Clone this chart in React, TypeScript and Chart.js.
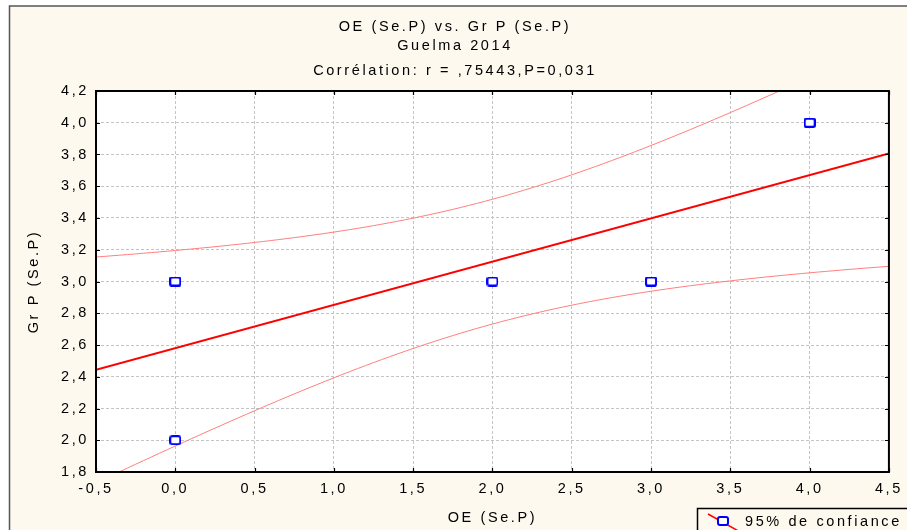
import React, { useEffect, useRef } from "react";
import { Chart, registerables } from "chart.js";

Chart.register(...registerables);

// Observations (n = 8; several pairs coincide on the plot)
const oeValues = [0, 0, 0, 2, 3, 3, 4, 4];
const grPValues = [2, 3, 3, 3, 3, 3, 4, 4];

// Axis ranges and tick spacing
const xMin = -0.5;
const xMax = 4.5;
const xStep = 0.5;
const yMin = 1.8;
const yMax = 4.2;
const yStep = 0.2;

const titleLines = [
  "OE (Se.P) vs. Gr P (Se.P)",
  "Guelma 2014",
  "Corrélation: r = ,75443,P=0,031",
];
const xAxisTitle = "OE (Se.P)";
const yAxisTitle = "Gr P (Se.P)";
const legendLabel = "95% de confiance";

// Student t quantile (0.975) for n - 2 = 6 degrees of freedom
const tQuantile = 2.446912;

const FONT = "'Liberation Sans', Arial, sans-serif";
const CREAM = "#fdf9ef";

function fitRegression(xs: number[], ys: number[]) {
  const n = xs.length;
  const mx = xs.reduce((a, b) => a + b, 0) / n;
  const my = ys.reduce((a, b) => a + b, 0) / n;
  let sxx = 0;
  let sxy = 0;
  let syy = 0;
  for (let i = 0; i < n; i++) {
    sxx += (xs[i] - mx) ** 2;
    sxy += (xs[i] - mx) * (ys[i] - my);
    syy += (ys[i] - my) ** 2;
  }
  const slope = sxy / sxx;
  const intercept = my - slope * mx;
  const s = Math.sqrt((syy - slope * sxy) / (n - 2));
  const predict = (x: number) => intercept + slope * x;
  const halfWidth = (x: number) =>
    tQuantile * s * Math.sqrt(1 / n + (x - mx) ** 2 / sxx);
  return { predict, halfWidth };
}

function makeMarker(): HTMLCanvasElement {
  const c = document.createElement("canvas");
  c.width = 12;
  c.height = 10;
  const g = c.getContext("2d")!;
  g.fillStyle = "#ffffff";
  g.strokeStyle = "#0000ff";
  g.lineWidth = 2;
  g.beginPath();
  g.roundRect(1, 1, 10, 8, 2);
  g.fill();
  g.stroke();
  return c;
}

const fmt = (v: number) => v.toFixed(1).replace(".", ",");

export default function App() {
  const ref = useRef<HTMLCanvasElement | null>(null);

  useEffect(() => {
    document.body.style.margin = "0";
    const canvas = ref.current!;
    const marker = makeMarker();
    const fit = fitRegression(oeValues, grPValues);

    const points = oeValues.map((x, i) => ({ x, y: grPValues[i] }));
    const fitLine = [xMin, xMax].map((x) => ({ x, y: fit.predict(x) }));
    const gridXs: number[] = [];
    for (let i = 0; i <= 100; i++) gridXs.push(xMin + (i * (xMax - xMin)) / 100);
    const upper = gridXs.map((x) => ({ x, y: fit.predict(x) + fit.halfWidth(x) }));
    const lower = gridXs.map((x) => ({ x, y: fit.predict(x) - fit.halfWidth(x) }));

    const framePlugin = {
      id: "statFrame",
      beforeDraw(chart: any) {
        const { ctx, width, height, chartArea: a } = chart;
        ctx.save();
        ctx.fillStyle = "#ffffff";
        ctx.fillRect(0, 0, width, height);
        ctx.fillStyle = CREAM;
        ctx.fillRect(10, 6, width, height);
        ctx.strokeStyle = "#555555";
        ctx.lineWidth = 1.5;
        ctx.beginPath();
        ctx.moveTo(9.5, height);
        ctx.lineTo(9.5, 6);
        ctx.lineTo(width, 6);
        ctx.stroke();
        ctx.fillStyle = "#ffffff";
        ctx.fillRect(a.left, a.top, a.right - a.left, a.bottom - a.top);
        ctx.restore();
        ctx.letterSpacing = "2.6px";
      },
      afterDraw(chart: any) {
        const { ctx, chartArea: a, scales } = chart;
        ctx.save();
        ctx.letterSpacing = "2.6px";
        // plot frame
        ctx.strokeStyle = "#000000";
        ctx.lineWidth = 2;
        ctx.strokeRect(a.left, a.top, a.right - a.left, a.bottom - a.top);
        // inward tick marks on all four sides
        ctx.lineWidth = 1.2;
        ctx.beginPath();
        for (const t of scales.x.ticks) {
          const px = Math.round(scales.x.getPixelForValue(t.value)) + 0.5;
          ctx.moveTo(px, a.top);
          ctx.lineTo(px, a.top + 4);
          ctx.moveTo(px, a.bottom);
          ctx.lineTo(px, a.bottom - 4);
        }
        for (const t of scales.y.ticks) {
          const py = Math.round(scales.y.getPixelForValue(t.value)) + 0.5;
          ctx.moveTo(a.left, py);
          ctx.lineTo(a.left + 4, py);
          ctx.moveTo(a.right, py);
          ctx.lineTo(a.right - 4, py);
        }
        ctx.stroke();

        // title block
        ctx.fillStyle = "#000000";
        ctx.font = `14.5px ${FONT}`;
        ctx.textAlign = "center";
        ctx.textBaseline = "middle";
        const titleYs = [27, 46, 71];
        titleLines.forEach((line, i) => ctx.fillText(line, 455, titleYs[i]));

        // legend box
        const lx = 697.5;
        const ly = 508.5;
        ctx.fillStyle = CREAM;
        ctx.fillRect(lx, ly, 300, 60);
        ctx.strokeStyle = "#000000";
        ctx.lineWidth = 1.5;
        ctx.strokeRect(lx, ly, 300, 60);
        ctx.strokeStyle = "#ff0000";
        ctx.lineWidth = 1.5;
        ctx.beginPath();
        ctx.moveTo(708, 514);
        ctx.lineTo(742, 533);
        ctx.stroke();
        ctx.drawImage(marker, 723 - 6, 521 - 5);
        ctx.fillStyle = "#000000";
        ctx.textAlign = "left";
        ctx.fillText(legendLabel, 745, 522);
        ctx.restore();
      },
    };

    const tickFont = { family: FONT, size: 14.5 };

    const chart = new Chart(canvas, {
      type: "scatter",
      data: {
        datasets: [
          {
            label: "obs",
            data: points,
            pointStyle: marker as any,
            pointRadius: 5,
            showLine: false,
          },
          {
            label: "fit",
            data: fitLine,
            showLine: true,
            borderColor: "#ff0000",
            borderWidth: 2,
            pointRadius: 0,
          },
          {
            label: "upper",
            data: upper,
            showLine: true,
            borderColor: "#ff7f7f",
            borderWidth: 1,
            pointRadius: 0,
          },
          {
            label: "lower",
            data: lower,
            showLine: true,
            borderColor: "#ff7f7f",
            borderWidth: 1,
            pointRadius: 0,
          },
        ],
      },
      options: {
        responsive: false,
        animation: false,
        events: [],
        layout: { padding: { top: 91, right: 14, bottom: 0, left: 0 } },
        plugins: {
          legend: { display: false },
          title: { display: false },
          tooltip: { enabled: false },
        },
        scales: {
          x: {
            type: "linear",
            min: xMin,
            max: xMax,
            afterFit(scale: any) {
              scale.height = 58;
            },
            ticks: {
              stepSize: xStep,
              autoSkip: false,
              maxRotation: 0,
              padding: 8,
              color: "#000000",
              font: tickFont,
              callback: (v: any) => fmt(Number(v)),
            },
            grid: {
              color: "#c4c4c4",
              lineWidth: 1,
              drawTicks: false,
            },
            border: { display: false, dash: [3, 2] },
            title: {
              display: true,
              text: xAxisTitle,
              color: "#000000",
              font: tickFont,
              padding: { top: 0, bottom: 3 },
            },
          },
          y: {
            type: "linear",
            min: yMin,
            max: yMax,
            afterFit(scale: any) {
              scale.width = 96;
            },
            ticks: {
              stepSize: yStep,
              autoSkip: false,
              padding: 7,
              color: "#000000",
              font: tickFont,
              callback: (v: any) => fmt(Number(v)),
            },
            grid: {
              color: "#c4c4c4",
              lineWidth: 1,
              drawTicks: false,
            },
            border: { display: false, dash: [3, 2] },
            title: {
              display: true,
              text: yAxisTitle,
              color: "#000000",
              font: tickFont,
              padding: { top: 25, bottom: 0 },
            },
          },
        },
      } as any,
      plugins: [framePlugin],
    });

    return () => chart.destroy();
  }, []);

  return (
    <div style={{ width: 907, height: 530 }}>
      <canvas ref={ref} width={907} height={530} style={{ display: "block" }} />
    </div>
  );
}
